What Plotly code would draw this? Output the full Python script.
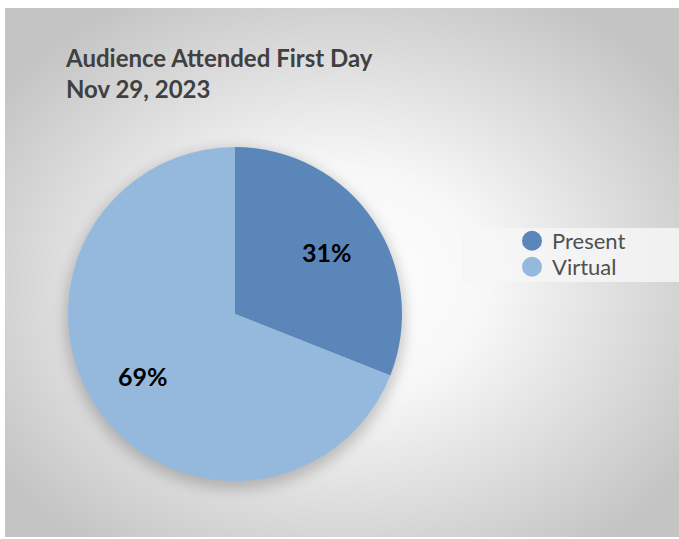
import base64
import math
import plotly.graph_objects as go

# Attendance split for the first day
labels = ["Present", "Virtual"]
shares = [31, 69]
colors = ["#5b86b9", "#95b9dd"]

title_lines = ["Audience Attended First Day", "Nov 29, 2023"]

W, H = 679, 539
# pie placement in pixels (centre and radius)
cx, cy, R = 235, 314, 167

# Soft radial backdrop with a faint drop shadow beneath the pie
svg = f"""<svg xmlns='http://www.w3.org/2000/svg' width='{W}' height='{H}' viewBox='0 0 {W} {H}'>
<defs>
<radialGradient id='g' cx='0.5' cy='0.52' r='0.62'>
<stop offset='0' stop-color='#ffffff'/>
<stop offset='0.35' stop-color='#f7f7f7'/>
<stop offset='1' stop-color='#c4c4c4'/>
</radialGradient>
<filter id='b' x='-30%' y='-30%' width='160%' height='160%'><feGaussianBlur stdDeviation='7'/></filter>
</defs>
<rect width='{W}' height='{H}' fill='#ffffff'/>
<rect x='5' y='8' width='{W-5}' height='{H-10}' fill='url(#g)'/>
<circle cx='{cx}' cy='{cy+5}' r='{R+3}' fill='#000' opacity='0.2' filter='url(#b)'/>
</svg>"""
bg_uri = "data:image/svg+xml;base64," + base64.b64encode(svg.encode()).decode()

fig = go.Figure()

fig.add_trace(go.Pie(
    labels=labels,
    values=shares,
    sort=False,
    direction="clockwise",
    rotation=0,
    marker=dict(colors=colors, line=dict(width=0)),
    textinfo="none",
    hoverinfo="skip",
    showlegend=False,
    domain=dict(x=[(cx - R) / W, (cx + R) / W],
                y=[(H - cy - R) / H, (H - cy + R) / H]),
))

# Percentage labels placed along each slice's bisector
total = sum(shares)
annotations = []
start = 0.0
for v in shares:
    mid = (start + v / 2) / total * 2 * math.pi  # clockwise from 12 o'clock
    start += v
    r = 0.665 * R
    px = cx + r * math.sin(mid)
    py = cy - r * math.cos(mid)
    annotations.append(dict(
        x=px / W, y=1 - py / H, xref="paper", yref="paper",
        text=f"<b>{round(v / total * 100)}%</b>", showarrow=False,
        font=dict(family="Lato", size=25, color="#000000"),
        xanchor="center", yanchor="middle",
    ))

# Round legend markers, one legend per row for tighter spacing
legend_ids = ["legend", "legend2"]
row_centres = [241, 267]
for name, col, lid in zip(labels, colors, legend_ids):
    fig.add_trace(go.Scatter(
        x=[None], y=[None], mode="markers", name=name, legend=lid,
        marker=dict(symbol="circle", size=16, color=col,
                    line=dict(width=4, color=col)),
        hoverinfo="skip",
    ))

legend_style = dict(
    x=512 / W, xanchor="left", yanchor="middle",
    bgcolor="rgba(0,0,0,0)",
    font=dict(family="Lato", size=22, color="#505050"),
    itemclick=False, itemdoubleclick=False,
)

fig.update_layout(
    width=W, height=H,
    margin=dict(l=0, r=0, t=0, b=0),
    paper_bgcolor="rgba(0,0,0,0)",
    plot_bgcolor="rgba(0,0,0,0)",
    xaxis=dict(visible=False),
    yaxis=dict(visible=False),
    annotations=annotations,
    images=[dict(source=bg_uri, xref="paper", yref="paper", x=0, y=1,
                 sizex=1, sizey=1, xanchor="left", yanchor="top",
                 sizing="stretch", layer="below")],
    shapes=[dict(type="rect", xref="paper", yref="paper",
                 x0=462 / W, x1=1, y0=1 - 282 / H, y1=1 - 228 / H,
                 fillcolor="rgba(246,246,246,0.85)", line=dict(width=0),
                 layer="below")],
    title=dict(
        text="<br>".join(title_lines),
        x=66 / W, xanchor="left", xref="paper",
        y=1 - 67 / H, yanchor="top", yref="paper",
        font=dict(family="Lato", size=24, color="#404040", weight="bold"),
    ),
    legend=dict(legend_style, y=1 - row_centres[0] / H),
    legend2=dict(legend_style, y=1 - row_centres[1] / H),
)

fig.write_html("out.html")
